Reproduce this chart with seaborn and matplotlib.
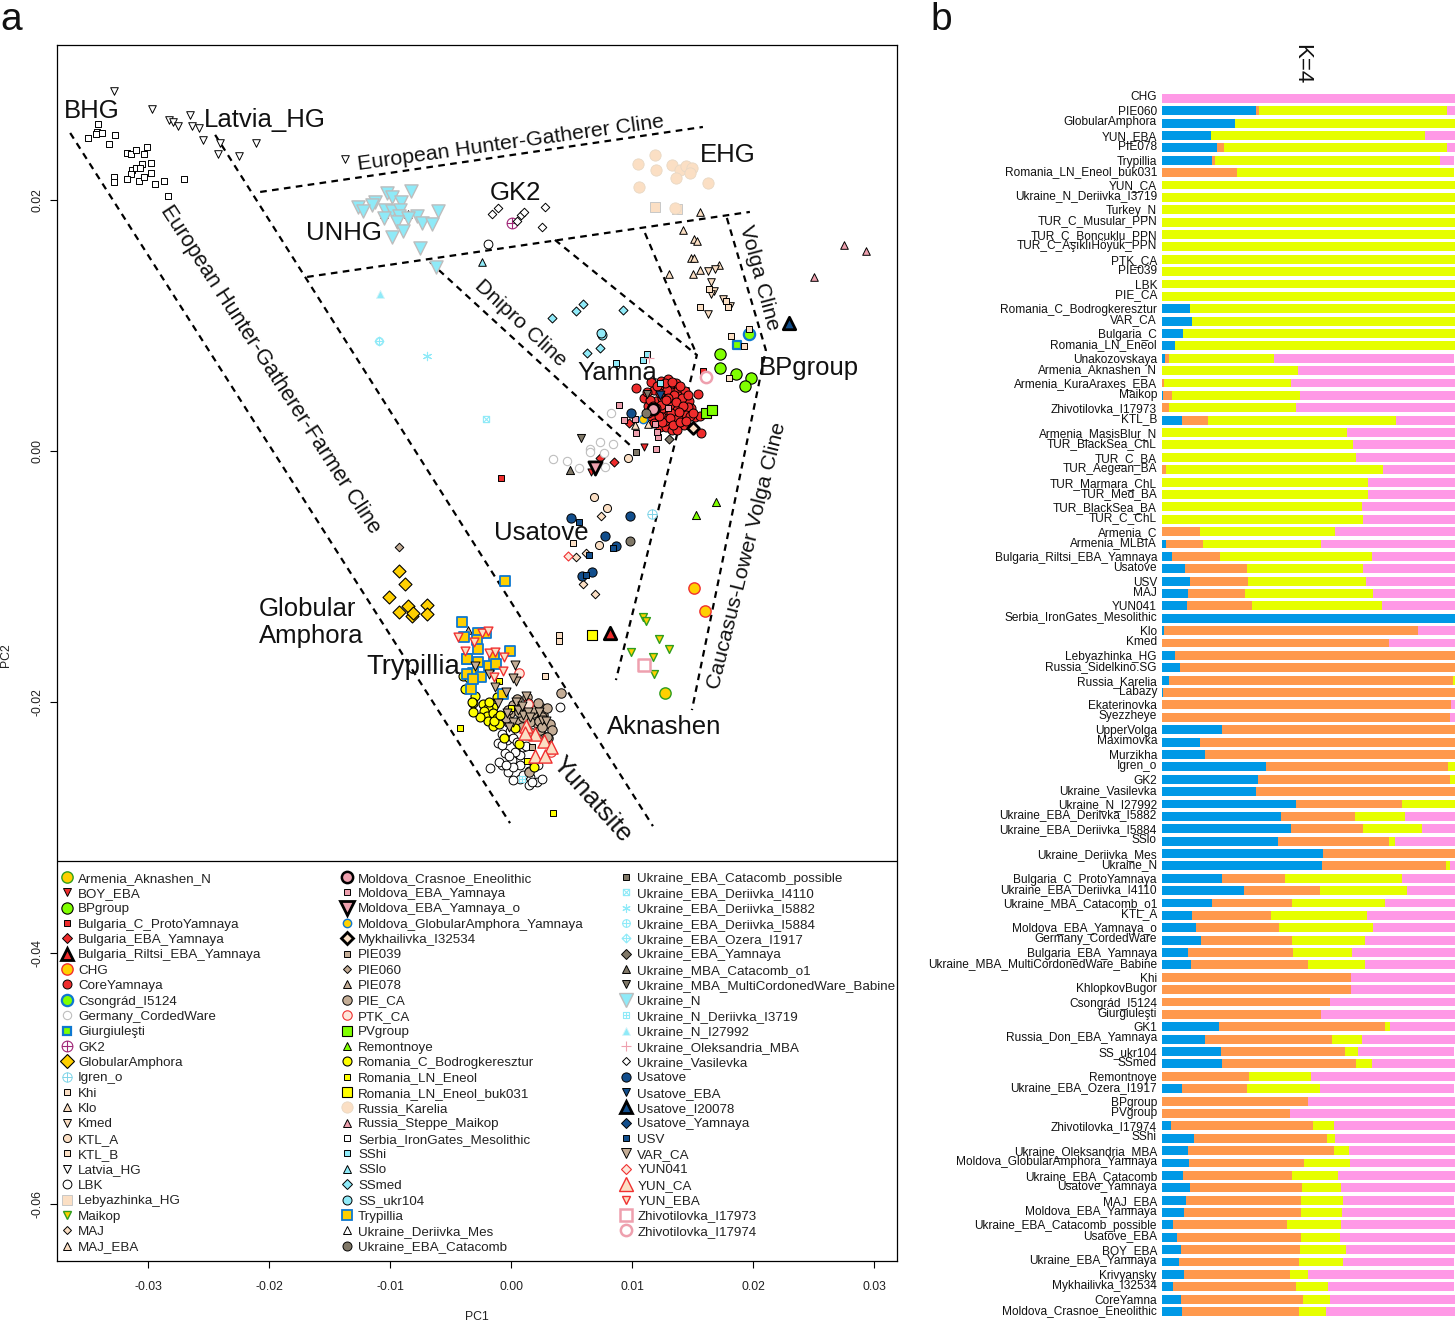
import numpy as np
import matplotlib
matplotlib.use("Agg")
import matplotlib.pyplot as plt
from matplotlib.path import Path
from matplotlib.lines import Line2D
from matplotlib.transforms import ScaledTranslation
import seaborn as sns

sns.set_style("white")
plt.rcParams['font.family'] = ['Liberation Sans', 'DejaVu Sans']

# ---------- panel a : PC1 / PC2 values per group ----------
armenia_aknashen = [(.01272,-.01926)]
boy_eba = [(.01099,.00029),(.00658,-.00165)]
bpgroup = [(.01724,.00776),(.01724,.00659),(.01856,.00616),(.01985,.00584),(.01935,.00516)]
bulgaria_c_proto = [(-.00083,-.00215),(.01586,.00638)]
bulgaria_eba = [(.00735,-.00053),(.00853,-.00085),(.00977,.00221)]
bulgaria_riltsi = [(.0082,-.01448)]
chg = [(.01514,-.01094),(.01605,-.01275)]
core_yamnaya = [(.0110,.0042),(.0113,.0036),(.0118,.0049),(.0120,.0040),(.0122,.0033),(.0125,.0051),(.0126,.0045),
    (.0127,.0038),(.0128,.0031),(.0129,.0026),(.0130,.0021),(.0131,.0052),(.0132,.0047),(.0133,.0041),(.0134,.0035),
    (.0135,.0029),(.0136,.0023),(.0137,.0019),(.0138,.0049),(.0139,.0044),(.0140,.0037),(.0141,.0031),(.0142,.0026),
    (.0143,.0021),(.0144,.0048),(.0124,.0028),(.0121,.0024),(.0119,.0030),(.0116,.0028),(.0147,.0040),(.0149,.0034),
    (.0152,.0027),(.0146,.0035),(.0145,.0029),(.0148,.0028),(.0156,.0028),(.0123,.0019),(.0128,.0019),(.0133,.0017),
    (.0116,.0055),(.0124,.0056),(.0130,.0057),(.0136,.0054),(.0125,.0042),(.0131,.0036),(.0137,.0033),(.0127,.0024),
    (.0118,.0022),(.0103,.0050),(.01545,.00454),(.0157,.00143),(.0137,.0017),
    (.0112,.0047),(.0115,.0041),(.0117,.0036),(.0123,.0046),(.0129,.0049),(.0135,.0045),(.0141,.0042),(.0126,.0034),
    (.0132,.0030),(.0138,.0026),(.0124,.0037),(.0130,.0042),(.0136,.0039),(.0142,.0036),(.0120,.0034),(.0125,.0023),
    (.0131,.0026),(.0134,.0021),(.0140,.0023),(.0145,.0024),(.0150,.0030),(.0121,.0052),(.0127,.0054),(.0133,.0055),
    (.0140,.0052),(.0146,.0045),(.0113,.0030),(.0139,.0031),(.0128,.0041),(.0122,.0028)]
csongrad = [(.01963,.00935)]
germany_cw = [(.00823,.00305),(.00653,.00013),(.00735,.00074),(.00843,.00056),(.00766,-.00013),(.00562,-.00133),
    (.00465,-.00077),(.00349,-.00064),(.00779,-.00125),(.00653,-.00005)]
giurgiulesti = [(.01864,.00847)]
gk2 = [(.00008,.01817)]
globular_amphora = [(-.00925,-.00956),(-.00878,-.01058),(-.0101,-.01166),(-.00923,-.01286),(-.00848,-.01235),
    (-.00818,-.01313),(-.00807,-.01294),(-.00696,-.0123),(-.00691,-.01299)]
igren_o = [(.01165,-.00505)]
khi = [(.00396,-.01469),(.00396,-.01512)]
klo = [(.01564,.01902),(.01423,.01759),(.01514,.0169),(.01534,.01674),(.01487,.01536),(.01512,.01541),(.01303,.01411),
    (.01506,.01411),(.01559,.01443),(.01716,.01482)]
kmed = [(.01625,.01437),(.01685,.0145),(.01652,.01349),(.01677,.01278),(.0165,.01249),(.01749,.01214),(.01809,.01158),
    (.01625,.0109)]
ktl_a = [(.00964,-.00053),(.00686,-.00364),(.00793,-.00454),(.00727,-.00747)]
ktl_b = [(.01635,.01291),(.01773,.01198),(.0179,.0115),(.01561,.0115),(.01925,.00837),(.01817,.00919),(.01968,.00972),
    (.01803,.00584),(.00512,-.00736),(.00281,-.01796)]
latvia_hg = [(-.03279,.02867),(-.02971,.02726),(-.02825,.02641),(-.0279,.0262),(-.02756,.0259),(-.02649,.0268),
    (-.02637,.02588),(-.02577,.02577),(-.02542,.02481),(-.02404,.02452),(-.0242,.0237),(-.02249,.02354),(-.02109,.02457),
    (-.01371,.0233)]
lbk = [(.00405,-.02043),(-.00173,-.02524),(-.00008,-.02229),(-.00077,-.02256),(-.00105,-.0233),(-.00036,-.02303),
    (.00019,-.0229),(-.0005,-.02409),(.00041,-.02396),(-.00077,-.02503),(-.00022,-.02556),(.00006,-.02463),(.00074,-.02423),
    (.00074,-.02503),(.00074,-.02617),(.00151,-.02662),(.00212,-.02636),(.00254,-.02617),(.00157,-.02596),(.00019,-.02516),
    (.00102,-.02357),(-.00077,-.02343),(-.0019,.0165),
    (.0003,-.0240),(.0012,-.0235),(.0018,-.0248),(.0010,-.0258),(.0015,-.0255),(-.0010,-.0248),(-.0004,-.0250),(.0005,-.0232),
    (-.0002,-.0243),(.0022,-.0250),(.0002,-.0262),(.0017,-.0264)]
lebyazhinka = [(.01192,.01945),(.01371,.01929)]
maikop = [(.01093,-.01321),(.01115,-.01355),(.01225,-.01501),(.01305,-.01581),(.00994,-.01602),(.01175,-.01644),(.01184,-.01775)]
maj = [(.00741,-.00518),(.00534,-.00845),(.0062,-.00813),(.00592,-.01058),(.00694,-.0114)]
maj_eba = [(.01024,.00207),(.01134,.00215)]
crasnoe = [(.01176,.00335)]
moldova_eba = [(.00892,.00367),(.00933,.0025),(.01024,.00258),(.01033,.00143),(.01212,.00114),(.01198,.00016),(.01203,.00154),
    (.01294,.00345),(.01192,.00215)]
moldova_eba_o = [(.00694,-.00133)]
moldova_ga = [(.01093,.00255)]
mykhailivka = [(.01501,.00183)]
pie039 = [(.00171,-.02357)]
pie060 = [(-.00925,-.00765)]
pie078 = [(-.00358,-.01427)]
pie_ca = [(.0013,-.01963),(.00254,-.02051),(.00322,-.02176),(.00212,-.0217),(-.00008,-.02091),(.00052,-.02038),(.0013,-.02038),
    (.00267,-.02104),(-.00022,-.02157),(.0006,-.02157),(.00157,-.02157),(.00184,-.02091),(.00088,-.02197),(.00281,-.02277),
    (.00308,-.0229),(.00413,-.01926),(.00149,-.02556),(-.00022,-.02064),(.00019,-.02024),(.0024,-.02224),
    (.0005,-.0198),(.0010,-.0212),(.0014,-.0201),(.0017,-.0206),(.0022,-.0201),(.0026,-.0212),(.0030,-.0205),(.0012,-.0223),
    (.0017,-.0225),(.0023,-.0215),(.0034,-.0222),(.0007,-.0208),(-.0004,-.0213),(.0030,-.0228),(.0026,-.0220)]
ptk_ca = [(.00069,-.01767),(.00138,-.02016),(.0033,-.02396)]
pvgroup = [(.01608,.00305),(.01658,.00324)]
remontnoye = [(.01696,-.00409),(.01531,-.00512)]
romania_c = [(-.00394,-.01793),(-.0038,-.01899),(-.00297,-.01953),(-.00311,-.02006),(-.00229,-.02016),(-.00146,-.02038),
    (-.00187,-.02051),(-.00223,-.0207),(-.00201,-.02112),(-.00146,-.02091),(-.00187,-.02149),(-.00118,-.0213),(-.00146,-.02192),
    (-.00097,-.02178),(-.00058,-.02285),(.00033,-.02205),(.00064,-.02335),(.00192,-.02516),(-.00118,-.01958),
    (-.0032,-.0200),(-.0018,-.0200),(-.0026,-.0212),(-.0014,-.0215),(-.0035,-.0181),(-.0009,-.0210),(-.0031,-.0208)]
romania_ln = [(-.00419,-.02205),(-.00099,-.01835),(0.0,-.02046),(.0013,-.02468),(.00347,-.02883)]
romania_buk031 = [(.00672,-.01464)]
russia_karelia = [(.01049,.02287),(.01189,.02359),(.01198,.0224),(.01057,.02104),(.0133,.02279),(.01396,.0224),(.01446,.02271),
    (.01495,.02255),(.01363,.02176),(.01627,.02136),(.01479,.02216),(.01355,.01934)]
russia_steppe_maikop = [(.02751,.01642),(.02932,.01594),(.02503,.01387)]
serbia_ig = [(-.0341,.02609),(-.03422,.0254),(-.03381,.02537),(-.03428,.02524),(-.03494,.02497),(-.03271,.02516),(-.03321,.02449),
    (-.03175,.02375),(-.03139,.0237),(-.03098,.02397),(-.03031,.02367),(-.03007,.02423),(-.0305,.0229),(-.02974,.02295),
    (-.03133,.02237),(-.031,.02256),(-.03062,.02258),(-.03139,.0221),(-.02974,.02216),(-.03279,.02186),(-.03279,.02144),
    (-.03172,.0217),(-.03073,.02154),(-.03031,.02186),(-.02941,.0213),(-.02866,.02154),(-.02701,.0217),(-.02833,.02035)]
sshi = [(.00867,.00701),(.0109,.00725),(.01123,.00773),(.01231,.00542)]
sslo = [(-.0024,.01506)]
ssmed = [(.00339,.0106),(.00537,.01116),(.00595,.01172),(.00925,.01124),(.00628,.00781),(.00735,.00821)]
ss_ukr104 = [(.00752,.00925),(.00743,.0094)]
trypillia = [(-.00047,-.01034),(-.00407,-.01365),(-.00388,-.0148),(-.0027,-.01448),(-.00207,-.01448),(-.00283,-.01506),
    (-.0027,-.01578),(-.00008,-.01596),(-.00361,-.0166),(-.0014,-.01639),(-.00361,-.01658),(-.0027,-.01679),(-.00179,-.01714),
    (-.00126,-.01698),(-.00311,-.01772),(-.0025,-.01799),(-.00361,-.01777),(-.00333,-.01894),(-.00316,-.0182),(-.00069,-.01937)]
deriivka_mes = [(-.01049,.01889),(-.00848,.01889)]
eba_catacomb = [(.00983,-.00715),(.01115,.003)]
eba_catacomb_possible = [(.01033,-.00008)]
i4110 = [(-.00207,.00255)]
i5882 = [(-.00694,.00757)]
i5884 = [(-.0109,.00877)]
ozera = [(-.0109,.00877)]
eba_yamnaya = [(.01305,.00098)]
mba_catacomb_o1 = [(.00485,-.00149)]
mba_multicordoned = [(.00576,.00106),(.01121,.00452)]
ukraine_n = [(-.01027,.02059),(-.00986,.02022),(-.00829,.02072),(-.00911,.01987),(-.01123,.01982),(-.01151,.01961),(-.01266,.01945),
    (-.01222,.01913),(-.01041,.01921),(-.00986,.01913),(-.00914,.01917),(-.00928,.01873),(-.00779,.01873),(-.00848,.01855),
    (-.006,.01913),(-.00738,.01815),(-.00655,.01809),(-.00939,.01828),(-.01049,.01855),(-.0089,.01756),(-.0098,.01706),
    (-.00749,.01618),(-.0062,.01464)]
n_i3719 = [(.00091,-.02614)]
n_i27992 = [(-.01082,.01251)]
oleksandria = [(.0114,.00741)]
vasilevka = [(-.00157,.01889),(-.00107,.01937),(.00083,.01881),(.00107,.01905),(.00281,.01945),(.00256,.01785),(.0005,.01833)]
usatove = [(.00493,-.00534),(.00983,-.00516),(.00774,-.00675),(.00865,-.0076),(.00672,-.00962),(.00589,-.00996),(.00991,.00305)]
usatove_eba = [(.01231,.00449)]
usatove_i20078 = [(.02296,.0102)]
usatove_yamnaya = []
usv = [(.00562,-.00563),(.00843,-.00776),(.00644,-.00831),(.00622,-.00986)]
var_ca = [(-.00297,-.01711),(-.00179,-.01777),(.00033,-.01706),(.00041,-.01831),(.00019,-.01812),(-.00132,-.01879),(-.00041,-.01918),
    (-.00105,-.02011),(.00041,-.01998),(-.00036,-.02091),(.00102,-.02104),(.00254,-.02144),(.00019,-.02157),(.00143,-.02078),
    (.0006,-.02064),(.0009,-.0203),(.0016,-.0212),(.0023,-.0208),(-.0002,-.0220),(.0029,-.0215),(.0012,-.0195)]
yun041 = [(.00468,-.00837)]
yun_ca = [(.00124,-.02192),(.00201,-.02256),(.00273,-.02309),(.00328,-.02357),(.00201,-.02431),(.00281,-.02431),(.00116,-.0225)]
yun_eba = [(-.0044,-.01485),(-.0024,-.01453),(-.00187,-.01432),(-.00308,-.0152),(-.00377,-.01592),(-.00179,-.01613),(-.00135,-.01604),
    (-.0006,-.01642),(-.00064,-.01753),(-.00138,-.01799)]
zhivotilovka_73 = [(.01101,-.01708)]
zhivotilovka_74 = [(.01613,.00587)]

tick_x = [-.03,-.02,-.01,0,.01,.02,.03]
tick_y = [.02,0,-.02,-.04,-.06]

# cline guide lines (PC1 list, PC2 list)
cline_lines = [
    ([-.03643,-.00008],[.02534,-.02965]),
    ([-.02445,.01173],[.02519,-.02989]),
    ([-.02073,.01586],[.02064,.02582]),
    ([-.01685,.01974],[.01387,.01905]),
    ([-.00669,.01],[.01506,.00032]),
    ([.00363,.01536,.00867],[.01682,.00765,-.01825]),
    ([.01107,.01536],[.01737,.00765]),
    ([.01784,.02106,.01495],[.01857,.00805,-.02064]),
]

# ---------- panel b : admixture proportions (K=4) ----------
bar_labels = ["CHG","PIE060","GlobularAmphora","YUN_EBA","PIE078","Trypillia","Romania_LN_Eneol_buk031","YUN_CA",
 "Ukraine_N_Deriivka_I3719","Turkey_N","TUR_C_Musular_PPN","TUR_C_Boncuklu_PPN","TUR_C_AşıklıHöyük_PPN","PTK_CA","PIE039","LBK","PIE_CA",
 "Romania_C_Bodrogkeresztur","VAR_CA","Bulgaria_C","Romania_LN_Eneol","Unakozovskaya","Armenia_Aknashen_N","Armenia_KuraAraxes_EBA","Maikop",
 "Zhivotilovka_I17973","KTL_B","Armenia_MasisBlur_N","TUR_BlackSea_ChL","TUR_C_BA","TUR_Aegean_BA","TUR_Marmara_ChL","TUR_Med_BA",
 "TUR_BlackSea_BA","TUR_C_ChL","Armenia_C","Armenia_MLBIA","Bulgaria_Riltsi_EBA_Yamnaya","Usatove","USV","MAJ","YUN041",
 "Serbia_IronGates_Mesolithic","Klo","Kmed","Lebyazhinka_HG","Russia_Sidelkino.SG","Russia_Karelia","Labazy","Ekaterinovka","Syezzheye",
 "UpperVolga","Maximovka","Murzikha","Igren_o","GK2","Ukraine_Vasilevka","Ukraine_N_I27992","Ukraine_EBA_Deriivka_I5882",
 "Ukraine_EBA_Deriivka_I5884","SSlo","Ukraine_Deriivka_Mes","Ukraine_N","Bulgaria_C_ProtoYamnaya","Ukraine_EBA_Deriivka_I4110",
 "Ukraine_MBA_Catacomb_o1","KTL_A","Moldova_EBA_Yamnaya_o","Germany_CordedWare","Bulgaria_EBA_Yamnaya","Ukraine_MBA_MultiCordonedWare_Babine",
 "Khi","KhlopkovBugor","Csongrád_I5124","Giurgiuleşti","GK1","Russia_Don_EBA_Yamnaya","SS_ukr104","SSmed","Remontnoye",
 "Ukraine_EBA_Ozera_I1917","BPgroup","PVgroup","Zhivotilovka_I17974","SShi","Ukraine_Oleksandria_MBA","Moldova_GlobularAmphora_Yamnaya",
 "Ukraine_EBA_Catacomb","Usatove_Yamnaya","MAJ_EBA","Moldova_EBA_Yamnaya","Ukraine_EBA_Catacomb_possible","Usatove_EBA","BOY_EBA",
 "Ukraine_EBA_Yamnaya","Krivyansky","Mykhailivka_I32534","CoreYamna","Moldova_Crasnoe_Eneolithic"]
k_blue = [0,.321,.249,.167,.188,.171,0,0,0,0,0,0,0,0,0,0,0,.096,.102,.072,.044,.010,0,0,.003,0,.068,0,0,0,0,0,0,0,0,0,.014,.034,.078,.096,.089,.085,
 1,.007,0,.044,.061,.024,.003,0,0,.205,.130,.147,.355,.328,.321,.457,.406,.440,.396,.549,.546,.205,.280,.171,.102,.115,.133,.089,.099,
 0,0,0,0,.194,.146,.201,.205,0,.069,0,0,.031,.109,.089,.093,.072,.096,.082,.075,.038,.051,.065,.058,.075,.038,.065,.069]
k_orange = [0,.010,0,0,.024,.010,.256,0,0,0,0,0,0,0,0,0,0,0,0,0,0,.014,0,.007,.031,.024,.089,0,0,0,.014,0,0,0,0,.130,.126,.164,.212,.198,.195,.222,
 0,.867,.775,.956,.939,.969,.997,.986,.983,.795,.870,.853,.621,.655,.679,.362,.253,.246,.379,.451,.423,.215,.259,.273,.270,.283,.311,.358,.399,
 .645,.645,.574,.543,.567,.434,.423,.457,.297,.222,.498,.437,.485,.455,.498,.392,.371,.382,.392,.399,.389,.423,.406,.409,.361,.419,.416,.399]
k_yellow = [0,.642,.751,.730,.761,.768,.741,1,1,1,1,1,1,1,1,1,1,.904,.898,.928,.956,.358,.464,.433,.437,.433,.642,.631,.652,.662,.741,.703,.703,.683,.686,.461,.403,.519,.396,.403,.437,.444,
 0,0,0,0,0,.007,0,0,0,0,0,0,.024,.017,0,.181,.171,.201,.020,0,.014,.399,.297,.317,.328,.323,.249,.201,.194,
 0,0,0,0,.017,.103,.045,.055,.211,.249,0,0,.072,.027,.050,.157,.158,.134,.143,.141,.184,.134,.157,.150,.062,.110,.093,.093]
k_pink = [1,.027,0,.103,.027,.048,0,0,0,0,0,0,0,0,0,0,0,0,0,0,0,.614,.536,.560,.529,.543,.201,.369,.348,.338,.245,.297,.297,.317,.314,.409,.457,.283,.314,.303,.279,.249,
 0,.126,.225,0,0,0,0,.014,.017,0,0,0,0,0,0,0,.170,.113,.205,0,.017,.181,.164,.239,.300,.279,.307,.352,.308,
 .355,.355,.426,.457,.222,.317,.328,.283,.492,.457,.502,.563,.412,.409,.363,.358,.399,.388,.380,.385,.389,.392,.372,.379,.498,.430,.426,.439]
k_colors = ["#0099E6","#FF994D","#E6FF00","#FF99E6"]

# ---------- marker shapes ----------
def _cmp(*parts):
    return Path.make_compound_path(*parts)
_h = Path([[-1,0],[1,0]],[Path.MOVETO,Path.LINETO])
_v = Path([[0,-1],[0,1]],[Path.MOVETO,Path.LINETO])
_sq = Path([[-.8,-.8],[.8,-.8],[.8,.8],[-.8,.8],[-.8,-.8]],closed=True)
_dm = Path([[-1,0],[0,-1],[1,0],[0,1],[-1,0]],closed=True)
_x1 = Path([[-.8,-.8],[.8,.8]],[Path.MOVETO,Path.LINETO])
_x2 = Path([[-.8,.8],[.8,-.8]],[Path.MOVETO,Path.LINETO])
_hs = Path([[-.8,0],[.8,0]],[Path.MOVETO,Path.LINETO])
_vs = Path([[0,-.8],[0,.8]],[Path.MOVETO,Path.LINETO])
CIRCPLUS = _cmp(Path.unit_circle(),_h,_v)
SQPLUS = _cmp(_sq,_hs,_vs)
SQX = _cmp(_sq,_x1,_x2)
DMPLUS = _cmp(_dm,_h,_v)
ASTER = (6,2,0)

GOLD,LIME,RED,PEACH,TAN,GREY,NAVY,LB,PINK,YEL = "#FFD000","#80FF00","#EE2C2C","#FBDFC4","#C4AD96","#807868","#124E8C","#8FEAF8","#EEA0AE","#FFFF00"
K = "black"
groups = [
 ("Armenia_Aknashen_N",armenia_aknashen,"o",GOLD,"#2E9E1E",66,1.0),
 ("BOY_EBA",boy_eba,"v",RED,K,26,.7),
 ("BPgroup",bpgroup,"o",LIME,K,66,.8),
 ("Bulgaria_C_ProtoYamnaya",bulgaria_c_proto,"s",RED,K,18,.7),
 ("Bulgaria_EBA_Yamnaya",bulgaria_eba,"D",RED,K,21,.7),
 ("Bulgaria_Riltsi_EBA_Yamnaya",bulgaria_riltsi,"^",RED,K,80,2.0),
 ("CHG",chg,"o",GOLD,"#F03030",66,1.0),
 ("CoreYamnaya",core_yamnaya,"o",RED,K,42,.7),
 ("Csongrád_I5124",csongrad,"o",LIME,"#0E78D0",66,1.6),
 ("Germany_CordedWare",germany_cw,"o","white","#BEBEBE",36,.8),
 ("Giurgiuleşti",giurgiulesti,"s",LIME,"#0E78D0",40,1.6),
 ("GK2",gk2,CIRCPLUS,"white","#A02878",60,.8),
 ("GlobularAmphora",globular_amphora,"D",GOLD,K,44,.8),
 ("Igren_o",igren_o,CIRCPLUS,"white","#7FD4E8",45,.7),
 ("Khi",khi,"s",PEACH,K,20,.7),
 ("Klo",klo,"^",PEACH,K,30,.7),
 ("Kmed",kmed,"v",PEACH,K,30,.7),
 ("KTL_A",ktl_a,"o",PEACH,K,34,.7),
 ("KTL_B",ktl_b,"s",PEACH,K,22,.7),
 ("Latvia_HG",latvia_hg,"v","white",K,30,.7),
 ("LBK",lbk,"o","white",K,40,.7),
 ("Lebyazhinka_HG",lebyazhinka,"s",PEACH,"#C8C8C8",42,.7),
 ("Maikop",maikop,"v",GOLD,"#2E9E1E",32,1.0),
 ("MAJ",maj,"D",PEACH,K,19,.7),
 ("MAJ_EBA",maj_eba,"^",PEACH,K,30,.7),
 ("Moldova_Crasnoe_Eneolithic",crasnoe,"o",PINK,K,66,1.8),
 ("Moldova_EBA_Yamnaya",moldova_eba,"s",PINK,K,20,.7),
 ("Moldova_EBA_Yamnaya_o",moldova_eba_o,"v",PINK,K,90,2.0),
 ("Moldova_GlobularAmphora_Yamnaya",moldova_ga,"o",GOLD,"#0E78D0",36,1.0),
 ("Mykhailivka_I32534",mykhailivka,"D",PEACH,K,36,2.0),
 ("PIE039",pie039,"s",TAN,K,20,.7),
 ("PIE060",pie060,"D",TAN,K,19,.7),
 ("PIE078",pie078,"^",TAN,K,30,.7),
 ("PIE_CA",pie_ca,"o",TAN,K,46,.7),
 ("PTK_CA",ptk_ca,"o","#FDE6DA","#F03030",46,.8),
 ("PVgroup",pvgroup,"s",LIME,K,52,.8),
 ("Remontnoye",remontnoye,"^",LIME,K,34,.7),
 ("Romania_C_Bodrogkeresztur",romania_c,"o",YEL,K,42,.8),
 ("Romania_LN_Eneol",romania_ln,"s",YEL,K,24,.7),
 ("Romania_LN_Eneol_buk031",romania_buk031,"s",YEL,K,52,.8),
 ("Russia_Karelia",russia_karelia,"o",PEACH,"#E8D8C4",66,.6),
 ("Russia_Steppe_Maikop",russia_steppe_maikop,"^",PINK,K,30,.7),
 ("Serbia_IronGates_Mesolithic",serbia_ig,"s","white",K,20,.7),
 ("SShi",sshi,"s",LB,K,24,.7),
 ("SSlo",sslo,"^",LB,K,30,.7),
 ("SSmed",ssmed,"D",LB,K,21,.7),
 ("SS_ukr104",ss_ukr104,"o",LB,K,42,.7),
 ("Trypillia",trypillia,"s",GOLD,"#0E78D0",52,1.3),
 ("Ukraine_Deriivka_Mes",deriivka_mes,"^","white",K,30,.7),
 ("Ukraine_EBA_Catacomb",eba_catacomb,"o",GREY,K,42,.7),
 ("Ukraine_EBA_Catacomb_possible",eba_catacomb_possible,"s",GREY,K,20,.7),
 ("Ukraine_EBA_Deriivka_I4110",i4110,SQX,"white",LB,20,.8),
 ("Ukraine_EBA_Deriivka_I5882",i5882,ASTER,LB,LB,36,.8),
 ("Ukraine_EBA_Deriivka_I5884",i5884,CIRCPLUS,"white",LB,30,.8),
 ("Ukraine_EBA_Ozera_I1917",ozera,DMPLUS,"white",LB,40,.8),
 ("Ukraine_EBA_Yamnaya",eba_yamnaya,"D",GREY,K,21,.7),
 ("Ukraine_MBA_Catacomb_o1",mba_catacomb_o1,"^",GREY,K,34,.7),
 ("Ukraine_MBA_MultiCordonedWare_Babine",mba_multicordoned,"v",GREY,K,34,.7),
 ("Ukraine_N",ukraine_n,"v",LB,"#BDBDBD",90,1.0),
 ("Ukraine_N_Deriivka_I3719",n_i3719,SQPLUS,"white",LB,22,.8),
 ("Ukraine_N_I27992",n_i27992,"^",LB,"#D8F4F8",34,.6),
 ("Ukraine_Oleksandria_MBA",oleksandria,"+",PINK,PINK,50,.8),
 ("Ukraine_Vasilevka",vasilevka,"D","white",K,19,.7),
 ("Usatove",usatove,"o",NAVY,K,44,.7),
 ("Usatove_EBA",usatove_eba,"v",NAVY,K,40,.7),
 ("Usatove_I20078",usatove_i20078,"^",NAVY,K,80,2.0),
 ("Usatove_Yamnaya",usatove_yamnaya,"D",NAVY,K,24,.7),
 ("USV",usv,"s",NAVY,K,24,.7),
 ("VAR_CA",var_ca,"v",TAN,K,42,.7),
 ("YUN041",yun041,"D","#FDE6DA","#F03030",21,.8),
 ("YUN_CA",yun_ca,"^",PEACH,"#F03030",90,1.0),
 ("YUN_EBA",yun_eba,"v",PEACH,"#F03030",40,1.0),
 ("Zhivotilovka_I17973",zhivotilovka_73,"s","white",PINK,66,1.8),
 ("Zhivotilovka_I17974",zhivotilovka_74,"o","white",PINK,66,1.8),
]

W,H = 1455,1321
fig = plt.figure(figsize=(W/100,H/100),dpi=100,facecolor="white")
ax = fig.add_axes([57/W,1-1261/H,840/W,1216/H])

for xs,ys in cline_lines:
    sns.lineplot(x=xs,y=ys,ax=ax,color="black",lw=1.6,sort=False,estimator=None,zorder=1,
                 linestyle=(0,(3.0,2.4)),legend=False)

def unfilled(m):
    return isinstance(m,tuple) or m=="+"

for name,pts,m,fc,ec,s,lw in groups:
    if not pts:
        continue
    xs=[p[0] for p in pts]; ys=[p[1] for p in pts]
    if isinstance(m,Path) or not unfilled(m):
        sns.scatterplot(x=xs,y=ys,ax=ax,marker=m,s=s,color=fc,edgecolor=ec,linewidth=lw,zorder=3,legend=False)
    else:
        sns.scatterplot(x=xs,y=ys,ax=ax,marker=m,s=s,color=ec,linewidth=lw,zorder=3,legend=False)

ax.set_xlim(-.03752,.0319)
ax.set_ylim(-.06454,.03235)
ax.set_xticks(tick_x)
ax.set_xticklabels(["-0.03","-0.02","-0.01","0.00","0.01","0.02","0.03"])
ax.set_yticks(tick_y)
ax.set_yticklabels(["0.02","0.00","-0.02","-0.04","-0.06"],rotation=90,va="center")
ax.tick_params(axis="both",direction="out",length=5,width=.8,color="black",labelsize=8.8,labelcolor="#222222",bottom=True,left=True,top=False,right=False)
ax.tick_params(axis="x",pad=9.7)
ax.tick_params(axis="y",pad=4.6)
for sp in ax.spines.values():
    sp.set_color("black"); sp.set_linewidth(.9)
ax.grid(False)
ax.axhline(-.03268,color="black",lw=.9,zorder=2)
fig.text(477/W,1-1317/H,"PC1",ha="center",va="center",fontsize=8.8,color="#222222")
fig.text(6/W,1-655/H,"PC2",ha="center",va="center",rotation=90,fontsize=8.8,color="#222222")

# legend : three columns
col_rows = [(0,25,60.4),(25,50,340.4),(50,74,619.6)]
for i0,i1,xp in col_rows:
    hs=[];ls=[]
    for name,pts,m,fc,ec,s,lw in groups[i0:i1]:
        if isinstance(m,Path) or not unfilled(m):
            h=Line2D([],[],ls="",marker=m,mfc=fc,mec=ec,ms=np.sqrt(s),mew=lw)
        else:
            h=Line2D([],[],ls="",marker=m,color=ec,ms=np.sqrt(s),mew=lw)
        hs.append(h);ls.append(name)
    leg=fig.legend(hs,ls,loc="upper left",bbox_to_anchor=(xp/W,1-872.3/H),bbox_transform=fig.transFigure,frameon=False,
                   fontsize=9.6,labelspacing=.227,handlelength=1.0,handletextpad=.32,borderpad=0,borderaxespad=0,labelcolor="#222222")

# annotations
def note(x,y,t,size=18.5,rot=0,**kw):
    if rot==0:
        y=y+1.5
    fig.text(x/W,1-y/H,t,fontsize=size,rotation=rot,ha=kw.pop("ha","center"),va="center",rotation_mode="anchor",color="#111111",**kw)
note(92,109,"BHG")
note(265,118,"Latvia_HG")
note(511,143,"European Hunter-Gatherer Cline",15.4,8)
note(728,153,"EHG")
note(515,192,"GK2")
note(344,231,"UNHG")
note(270,370,"European Hunter-Gatherer-Farmer Cline",15.5,-57)
note(520,323,"Dnipro Cline",15.4,-43)
note(759,278,"Volga Cline",15.4,-75)
note(617,372,"Yamna")
note(809,366,"BPgroup")
note(747,556,"Caucasus-Lower Volga Cline",15.4,76)
note(541,531,"Usatove")
note(259,608,"Globular",ha="left")
note(259,635,"Amphora",ha="left")
note(413,665,"Trypillia",19.8)
note(664,725,"Aknashen")
note(592,800,"Yunatsite",18.5,-48)
fig.text(11/W,1-30/H,"a",fontsize=28,ha="center",va="baseline",color="#111111")
fig.text(941/W,1-30/H,"b",fontsize=28,ha="center",va="baseline",color="#111111")
note(1302,64,"K=4",16,-90)

# ---------- panel b ----------
bx = fig.add_axes([1162/W,1-1320/H,293/W,(1320-90)/H])
b,o,y,p = map(np.array,(k_blue,k_orange,k_yellow,k_pink))
layers = [b+o+y+p,b+o+y,b+o,b]
for vals,col in zip(layers,k_colors[::-1]):
    sns.barplot(x=vals,y=bar_labels,ax=bx,orient="h",color=col,saturation=1,width=.72,errorbar=None,linewidth=0)
bx.set_xlim(0,1)
step=12.38
bx.set_ylim((1320-98.3)/step,-(98.3-90)/step)
sns.despine(ax=bx,left=True,bottom=True)
bx.set_xticks([]); bx.set_xlabel(""); bx.set_ylabel("")
bx.tick_params(axis="y",length=0,pad=3.6,labelsize=8.6,labelcolor="#111111",left=False)
bx.set_facecolor("none")
for i,lb in enumerate(bx.get_yticklabels()):
    if i%2==0:
        lb.set_transform(lb.get_transform()+ScaledTranslation(0,1.7/72,fig.dpi_scale_trans))

fig.savefig("out.png",dpi=100)
